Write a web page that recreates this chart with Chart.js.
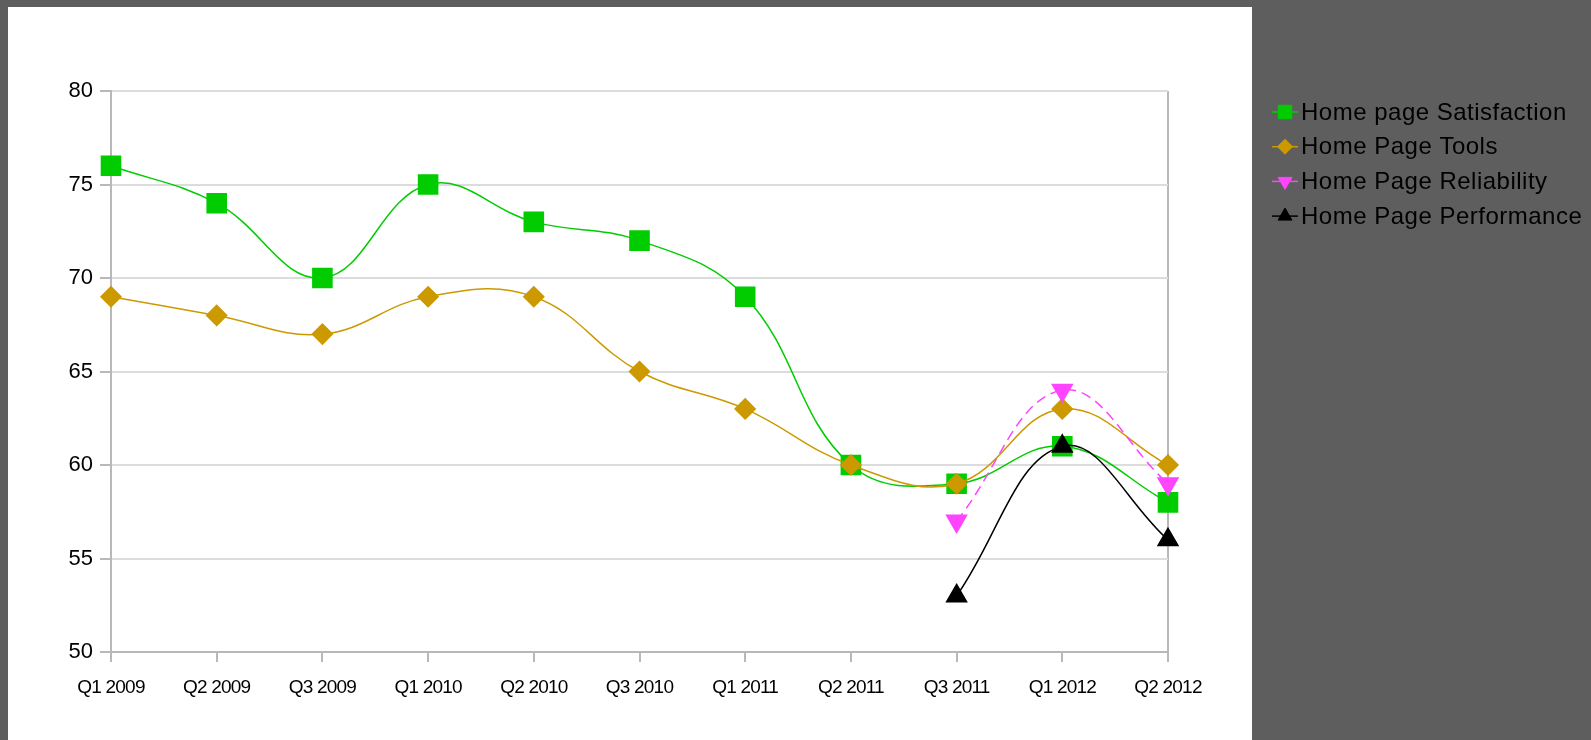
<!DOCTYPE html>
<html lang="en">
<head>
  <meta charset="UTF-8" />
  <title>Home Page Scores</title>
  <script src="https://cdn.jsdelivr.net/npm/chart.js"></script>
  <style>
    body { margin: 0; background: #5e5e5e; overflow: hidden; }
    canvas { display: block; }
  </style>
</head>
<body>

  <canvas id="scoreChart" width="1591" height="740"></canvas>

  <script>
    const quarters = ['Q1 2009', 'Q2 2009', 'Q3 2009', 'Q1 2010', 'Q2 2010', 'Q3 2010',
                      'Q1 2011', 'Q2 2011', 'Q3 2011', 'Q1 2012', 'Q2 2012'];
    const satisfaction = [76, 74, 70, 75, 73, 72, 69, 60, 59, 61, 58];
    const tools = [69, 68, 67, 69, 69, 65, 63, 60, 59, 63, 60];
    const reliability = [null, null, null, null, null, null, null, null, 57, 64, 59];
    const performance = [null, null, null, null, null, null, null, null, 53, 61, 56];
    const yTicks = [50, 55, 60, 65, 70, 75, 80];

    const axisGray = '#b8b8b8';
    const gridGray = '#dcdcdc';

    // gray page with the white panel behind the plot
    const panel = {
      id: 'panel',
      beforeDraw(chart) {
        const ctx = chart.ctx;
        ctx.save();
        ctx.fillStyle = '#5e5e5e';
        ctx.fillRect(0, 0, chart.width, chart.height);
        ctx.fillStyle = '#ffffff';
        ctx.fillRect(8, 7, 1244, chart.height - 7);
        ctx.restore();

        // squeeze the quarter labels a little (no narrow font here)
        const sx = chart.scales.x;
        if (sx && !sx._squeezed) {
          const orig = sx.drawLabels;
          sx.drawLabels = function (area) {
            this.ctx.save();
            this.ctx.letterSpacing = '-0.8px';
            orig.call(this, area);
            this.ctx.restore();
          };
          sx._squeezed = true;
        }
      }
    };

    // legend drawn on the gray side, line + marker + label
    const sideLegend = {
      id: 'sideLegend',
      afterDraw(chart) {
        const ctx = chart.ctx;
        const sizes = { rect: 9.5, rectRot: 7.5, triangle: 8 };
        chart.data.datasets.forEach((ds, i) => {
          const y = 112 + i * 34.7;
          ctx.save();
          ctx.strokeStyle = ds.borderColor;
          ctx.lineWidth = 1.5;
          ctx.beginPath();
          ctx.moveTo(1272, y);
          ctx.lineTo(1298, y);
          ctx.stroke();
          ctx.fillStyle = ds.pointBackgroundColor;
          ctx.strokeStyle = ds.pointBackgroundColor;
          ctx.lineWidth = 1;
          Chart.helpers.drawPoint(ctx, {
            pointStyle: ds.pointStyle,
            rotation: ds.pointRotation || 0,
            radius: sizes[ds.pointStyle],
            borderWidth: 1
          }, 1285, y);
          ctx.fillStyle = '#000000';
          ctx.font = '24px "Liberation Sans"';
          ctx.letterSpacing = '0.5px';
          ctx.textBaseline = 'middle';
          ctx.fillText(ds.label, 1301, y + 1);
          ctx.restore();
        });
      }
    };

    new Chart(document.getElementById('scoreChart'), {
      type: 'line',
      data: {
        labels: quarters,
        datasets: [
          {
            label: 'Home page Satisfaction',
            data: satisfaction,
            order: 3,
            borderColor: '#00cc00',
            pointBackgroundColor: '#00cc00',
            pointBorderColor: '#00cc00',
            pointStyle: 'rect',
            pointRadius: 13.5,
            borderWidth: 1.5
          },
          {
            label: 'Home Page Tools',
            data: tools,
            order: 2,
            borderColor: '#cc9900',
            pointBackgroundColor: '#cc9900',
            pointBorderColor: '#cc9900',
            pointStyle: 'rectRot',
            pointRadius: 10,
            borderWidth: 1.5
          },
          {
            label: 'Home Page Reliability',
            data: reliability,
            order: 1,
            borderColor: '#ff44ff',
            pointBackgroundColor: '#ff44ff',
            pointBorderColor: '#ff44ff',
            pointStyle: 'triangle',
            pointRotation: 180,
            pointRadius: 11.5,
            borderWidth: 1.5,
            borderDash: [10, 6]
          },
          {
            label: 'Home Page Performance',
            data: performance,
            order: 0,
            borderColor: '#000000',
            pointBackgroundColor: '#000000',
            pointBorderColor: '#000000',
            pointStyle: 'triangle',
            pointRadius: 11.5,
            borderWidth: 1.5
          }
        ]
      },
      options: {
        responsive: false,
        animation: false,
        devicePixelRatio: 1,
        layout: { padding: { left: 0, top: 91, right: 423, bottom: 0 } },
        elements: {
          line: { tension: 0.4, fill: false },
          point: { borderWidth: 1, hoverRadius: 13 }
        },
        plugins: {
          legend: { display: false },
          tooltip: { enabled: false }
        },
        scales: {
          x: {
            offset: false,
            border: { color: axisGray, width: 2 },
            grid: {
              color: ctx => ctx.index === quarters.length - 1 ? axisGray : 'rgba(0,0,0,0)',
              lineWidth: 2,
              tickColor: axisGray,
              tickLength: 10
            },
            ticks: {
              color: '#000000',
              font: { family: '"Liberation Sans"', size: 19 },
              padding: 14,
              maxRotation: 0,
              autoSkip: false
            },
            afterFit(scale) { scale.height = 88; }
          },
          y: {
            min: 50,
            max: 80,
            border: { color: axisGray, width: 2 },
            grid: {
              color: gridGray,
              lineWidth: 2,
              tickColor: axisGray,
              tickLength: 11
            },
            afterBuildTicks(scale) { scale.ticks = yTicks.map(v => ({ value: v })); },
            ticks: {
              color: '#000000',
              font: { family: '"Liberation Sans"', size: 22 },
              padding: 7
            },
            afterFit(scale) { scale.width = 111; }
          }
        }
      },
      plugins: [panel, sideLegend]
    });
  </script>

</body>
</html>
